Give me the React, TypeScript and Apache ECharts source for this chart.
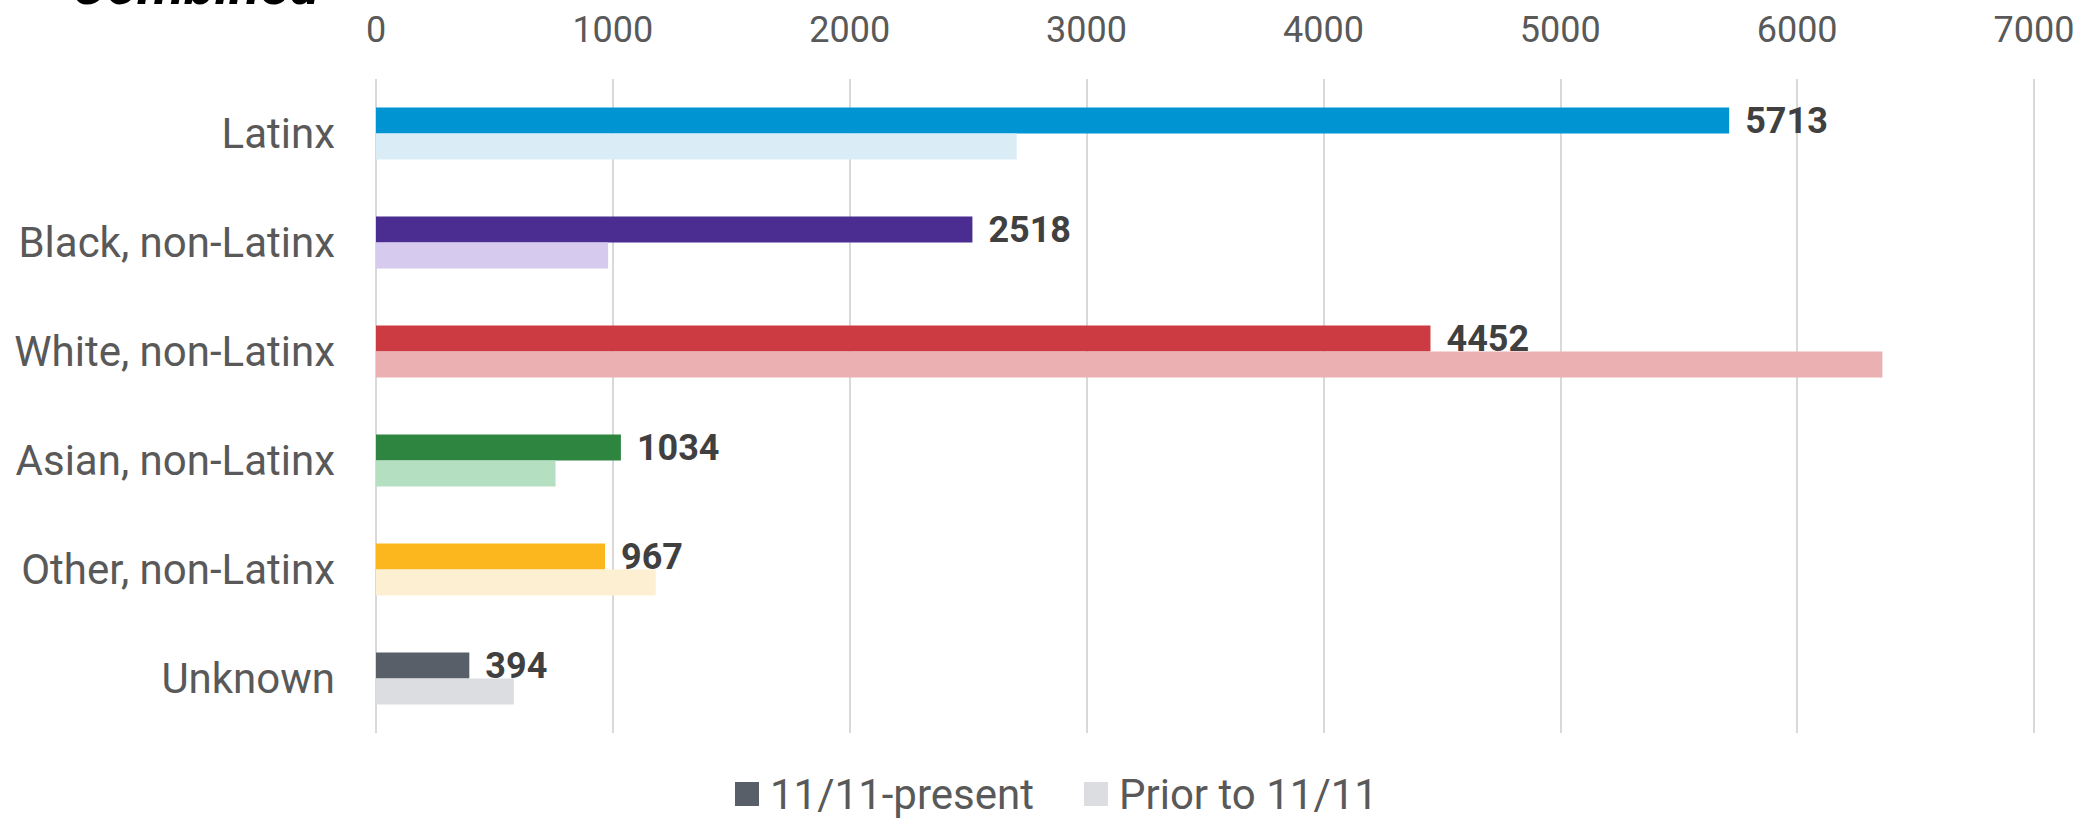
import React, { useEffect, useRef } from "react";
import * as echarts from "echarts";

const categories = [
  "Latinx",
  "Black, non-Latinx",
  "White, non-Latinx",
  "Asian, non-Latinx",
  "Other, non-Latinx",
  "Unknown",
];
const recentValues = [5713, 2518, 4452, 1034, 967, 394];
const priorValues = [2705, 980, 6360, 758, 1181, 582];
const recentColors = ["#0094D3", "#4B2C91", "#CC3A42", "#2E8540", "#FDB71E", "#585F69"];
const priorColors = ["#DAEDF7", "#D6CAEE", "#EBB0B2", "#B5DFC1", "#FDF0D2", "#DCDDE1"];
const xTicks = [0, 7000, 1000];
const seriesNames = ["11/11-present", "Prior to 11/11"];
const titleText = "Combined";

export default function App() {
  const ref = useRef<HTMLDivElement>(null);
  useEffect(() => {
    if (!ref.current) return;
    const chart = echarts.init(ref.current, undefined, { renderer: "svg" });
    const font = "Roboto";
    chart.setOption({
      animation: false,
      backgroundColor: "#ffffff",
      textStyle: { fontFamily: font },
      title: {
        text: titleText,
        left: 71,
        top: -43,
        padding: 0,
        textStyle: {
          fontFamily: font,
          fontSize: 56,
          fontWeight: "bold",
          fontStyle: "italic",
          color: "#000000",
        },
      },
      legend: {
        left: 730,
        top: 768,
        itemWidth: 24,
        itemHeight: 24,
        itemGap: 50,
        icon: "rect",
        textStyle: { fontFamily: font, fontSize: 42, color: "#595959", padding: [0, 0, 0, 6] },
        data: seriesNames,
      },
      grid: { left: 376, right: 65, top: 79, bottom: 89 },
      xAxis: {
        type: "value",
        position: "top",
        min: xTicks[0],
        max: xTicks[1],
        interval: xTicks[2],
        axisLine: { show: false },
        axisTick: { show: false },
        axisLabel: {
          fontFamily: font,
          fontSize: 36,
          color: "#595959",
          margin: 31,
          formatter: (v: number) => String(v),
        },
        splitLine: { show: true, lineStyle: { color: "#D9D9D9", width: 2 } },
      },
      yAxis: {
        type: "category",
        inverse: true,
        data: categories,
        axisLine: { show: false },
        axisTick: { show: false },
        axisLabel: { fontFamily: font, fontSize: 42, color: "#595959", margin: 41 },
      },
      series: [
        {
          name: seriesNames[0],
          type: "bar",
          barWidth: 26,
          barGap: "0%",
          itemStyle: { color: "#585F69" },
          label: {
            show: true,
            position: "right",
            distance: 16,
            fontFamily: font,
            fontSize: 36,
            fontWeight: "bold",
            color: "#404040",
          },
          data: recentValues.map((v, i) => ({ value: v, itemStyle: { color: recentColors[i] } })),
        },
        {
          name: seriesNames[1],
          type: "bar",
          barWidth: 26,
          barGap: "0%",
          itemStyle: { color: "#DCDDE1" },
          data: priorValues.map((v, i) => ({ value: v, itemStyle: { color: priorColors[i] } })),
        },
      ],
    });
    return () => chart.dispose();
  }, []);
  return (
    <div
      ref={ref}
      style={{ position: "fixed", left: 0, top: 0, width: 2099, height: 822 }}
    />
  );
}
